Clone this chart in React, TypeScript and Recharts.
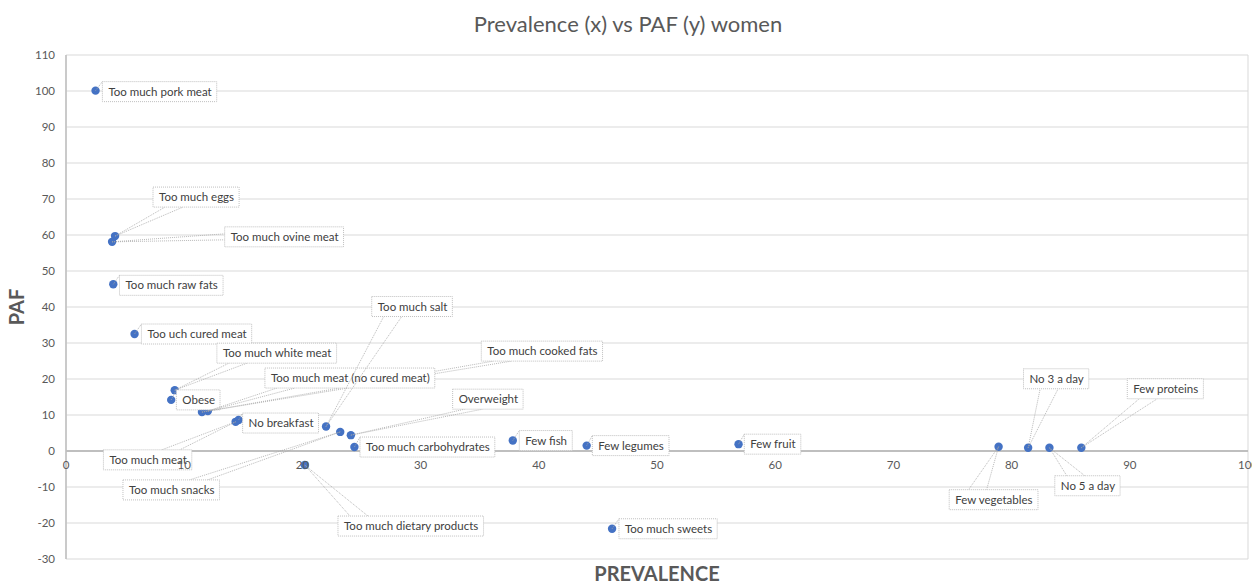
import { ScatterChart, Scatter, XAxis, YAxis, CartesianGrid, ReferenceLine, ReferenceDot } from 'recharts';

const factores = [
  'Too much pork meat',
  'Too much eggs',
  'Too much ovine meat',
  'Too much raw fats',
  'Too uch cured meat',
  'Too much white meat',
  'Obese',
  'Too much cooked fats',
  'Too much meat (no cured meat)',
  'Too much meat',
  'No breakfast',
  'Too much salt',
  'Too much snacks',
  'Overweight',
  'Too much carbohydrates',
  'Too much dietary products',
  'Few fish',
  'Few legumes',
  'Too much sweets',
  'Few fruit',
  'Few vegetables',
  'No 3 a day',
  'No 5 a day',
  'Few proteins',
];

const prevalencia = [2.5, 4.15, 3.9, 4.0, 5.8, 9.2, 8.9, 11.5, 12.0, 14.35, 14.6, 22.0, 23.2, 24.1, 24.4, 20.2, 37.8, 44.05, 46.2, 56.9, 78.9, 81.4, 83.2, 85.9];
const pafValores = [100.1, 59.7, 58.1, 46.3, 32.5, 16.9, 14.2, 10.8, 11.1, 8.1, 8.6, 6.8, 5.3, 4.4, 1.1, -3.9, 2.9, 1.5, -21.6, 1.9, 1.2, 0.9, 0.9, 0.9];

const xTicks = [0, 10, 20, 30, 40, 50, 60, 70, 80, 90, 100];
const yTicks = [-30, -20, -10, 0, 10, 20, 30, 40, 50, 60, 70, 80, 90, 100, 110];

// dónde quedó cada etiqueta (centro de la caja, px respecto al punto)
const posEtiquetas: Record<string, [number, number]> = {
  'Too much pork meat': [64, 1],
  'Too much eggs': [81, -39],
  'Too much ovine meat': [172, -5],
  'Too much raw fats': [58, 1],
  'Too uch cured meat': [62, 0],
  'Too much white meat': [102, -37],
  'Obese': [27, 0],
  'Too much cooked fats': [340, -61],
  'Too much meat (no cured meat)': [142, -33],
  'Too much meat': [-88, 38],
  'No breakfast': [42, 3],
  'Too much salt': [86, -120],
  'Too much snacks': [-169, 58],
  'Overweight': [137, -36],
  'Too much carbohydrates': [73, 0],
  'Too much dietary products': [106, 61],
  'Few fish': [33, 0],
  'Few legumes': [44, 0],
  'Too much sweets': [56, 0],
  'Few fruit': [34, 0],
  'Few vegetables': [-5, 53],
  'No 3 a day': [28, -69],
  'No 5 a day': [38, 38],
  'Few proteins': [84, -59],
};

const FUENTE = 'Lato, "Liberation Sans", sans-serif';
const GRIS = '#595959';

const datos = factores.map((nombre, i) => ({ nombre, x: prevalencia[i], y: pafValores[i] }));

let ctx: CanvasRenderingContext2D | null = null;
function medir(texto: string) {
  if (!ctx) ctx = document.createElement('canvas').getContext('2d');
  if (!ctx) return texto.length * 6;
  ctx.font = '11.5px Lato';
  return ctx.measureText(texto).width;
}

function Punto(props: any) {
  const { cx, cy } = props;
  return <circle cx={cx} cy={cy} r={4.2} fill="#4472c4" />;
}

function Etiqueta(props: any) {
  const { cx, cy, payload } = props;
  const [dx, dy] = posEtiquetas[payload.nombre] || [20, 0];
  const w = medir(payload.nombre) + 11;
  const h = 20;
  const mx = cx + dx;
  const my = cy + dy;
  const left = mx - w / 2;
  const right = mx + w / 2;
  const top = my - h / 2;
  const bottom = my + h / 2;

  const nx = Math.max(left, Math.min(cx, right));
  const ny = Math.max(top, Math.min(cy, bottom));
  const dist = Math.hypot(cx - nx, cy - ny);
  let extremos: [number, number][] = [];
  if (dist < 16) {
    const kx = cx < left ? left : cx > right ? right : nx;
    const ky = cy <= my ? top : bottom;
    extremos = [[kx, ky]];
  } else if (cy > bottom || cy < top) {
    const ey = cy > bottom ? bottom : top;
    const dir = nx < mx ? 1 : -1;
    const a = Math.min(Math.max(nx + dir * 12, left), right);
    const b = Math.min(Math.max(nx + dir * 30, left), right);
    extremos = [[a, ey], [b, ey]];
  } else {
    const ex = cx < left ? left : right;
    extremos = [[ex, my - 3], [ex, my + 3]];
  }

  return (
    <g>
      {extremos.map(([ex, ey], i) => (
        <line key={i} x1={cx} y1={cy} x2={ex} y2={ey} stroke="#a6a6a6" strokeWidth={0.8} strokeDasharray="1 1" />
      ))}
      <rect x={left} y={top} width={w} height={h} fill="#ffffff" stroke="#bfbfbf" strokeWidth={1} strokeDasharray="1 1" />
      <text x={left + 6} y={my + 4} fontSize={11.5} fontFamily={FUENTE} fill="#404040">
        {payload.nombre}
      </text>
    </g>
  );
}

export default function App() {
  return (
    <div style={{ position: 'absolute', left: 0, top: 0, width: 1252, height: 586, background: '#fff' }}>
      <div
        style={{
          position: 'absolute', left: 0, top: 11, width: 1256, textAlign: 'center',
          fontFamily: FUENTE, fontSize: 22, lineHeight: '26px', color: GRIS,
        }}
      >
        Prevalence (x) vs PAF (y) women
      </div>
      <ScatterChart width={1252} height={586} margin={{ top: 55, right: 4, bottom: 0, left: 0 }}>
        <CartesianGrid stroke="#d9d9d9" />
        <XAxis
          type="number"
          dataKey="x"
          domain={[0, 100]}
          ticks={xTicks}
          tick={false}
          tickLine={false}
          axisLine={false}
          height={27}
          label={{
            value: 'PREVALENCE', position: 'insideBottom', offset: 5,
            style: { fontWeight: 700, fontSize: 20, fill: GRIS, fontFamily: FUENTE },
          }}
        />
        <YAxis
          type="number"
          dataKey="y"
          domain={[-30, 110]}
          ticks={yTicks}
          width={66}
          tickLine={false}
          tickSize={0}
          tickMargin={11}
          axisLine={{ stroke: '#bfbfbf', strokeWidth: 1.5 }}
          tick={{ fill: GRIS, fontSize: 11.5, fontFamily: FUENTE }}
          label={{
            value: 'PAF', angle: -90, position: 'insideLeft', offset: 17,
            style: { fontWeight: 700, fontSize: 20, fill: GRIS, fontFamily: FUENTE, textAnchor: 'middle' },
          }}
        />
        <ReferenceLine y={0} stroke="#bfbfbf" strokeWidth={2} />
        {xTicks.map((t) => (
          <ReferenceDot
            key={t}
            x={t}
            y={0}
            r={0}
            fill="none"
            stroke="none"
            label={{ value: String(t), position: 'bottom', offset: 10, fill: GRIS, fontSize: 11.5, fontFamily: FUENTE }}
          />
        ))}
        <Scatter data={datos} shape={Punto} isAnimationActive={false} />
        <Scatter data={datos} shape={Etiqueta} isAnimationActive={false} />
      </ScatterChart>
    </div>
  );
}
